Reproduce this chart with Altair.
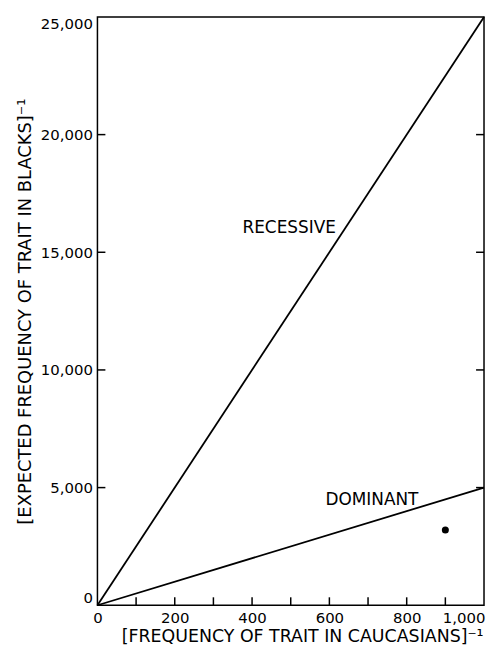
import altair as alt
import pandas as pd

# ---- data ----
line_x = [0, 1000]
recessive_y = [0, 25000]
dominant_y = [0, 5000]

point_x = [900]
point_y = [3200]

label_text = ["RECESSIVE", "DOMINANT"]
label_x = [496, 710]
label_y = [16050, 4480]

x_label_values = [0, 200, 400, 600, 800, 1000]
x_minor_ticks = [100, 200, 300, 400, 500, 600, 700, 800, 900]
y_label_values = [0, 5000, 10000, 15000, 20000, 25000]
y_inner_ticks = [5000, 10000, 15000, 20000]

FONT = "DejaVu Sans"
W, H, TICK = 389, 592, 8

lines_df = pd.DataFrame(
    {
        "series": ["recessive"] * 2 + ["dominant"] * 2,
        "x": line_x + line_x,
        "y": recessive_y + dominant_y,
    }
)
point_df = pd.DataFrame({"x": point_x, "y": point_y})
label_df = pd.DataFrame({"x": label_x, "y": label_y, "label": label_text})
xtick_df = pd.DataFrame({"x": x_minor_ticks})
ytick_df = pd.DataFrame({"y": y_inner_ticks})

xs = alt.Scale(domain=[0, 1000], nice=False, zero=False)
ys = alt.Scale(domain=[0, 25000], nice=False, zero=False)

x_axis = alt.Axis(
    values=x_label_values,
    format=",.0f",
    ticks=False,
    domain=False,
    grid=False,
    labelPadding=5,
    labelAlign={"condition": {"test": "datum.value == 1000", "value": "right"}, "value": "center"},
    labelOffset={"condition": {"test": "datum.value == 1000", "value": 1}, "value": 0},
    title="[FREQUENCY OF TRAIT IN CAUCASIANS]⁻¹",
    titleFontSize=17.5,
    titlePadding=2,
    titleX=206,
)
y_axis = alt.Axis(
    values=y_label_values,
    format=",.0f",
    ticks=False,
    domain=False,
    grid=False,
    labelFlush=True,
    labelPadding=5,
    title="[EXPECTED FREQUENCY OF TRAIT IN BLACKS]⁻¹",
    titlePadding=6,
)


def X():
    return alt.X("x:Q", scale=xs, axis=x_axis)


def Y():
    return alt.Y("y:Q", scale=ys, axis=y_axis)


lines = alt.Chart(lines_df).mark_line(color="black", strokeWidth=1.8).encode(
    x=X(), y=Y(), detail="series:N"
)

points = alt.Chart(point_df).mark_circle(color="black", opacity=1, size=50).encode(
    x=X(), y=Y()
)

labels = alt.Chart(label_df).mark_text(
    font=FONT, fontSize=17, color="black", align="center", baseline="middle"
).encode(x=X(), y=Y(), text="label:N")

xticks = alt.Chart(xtick_df).mark_rule(color="black", strokeWidth=1.5).encode(
    x=X(),
    y=alt.value(H),
    y2=alt.value(H - TICK),
)
left_ticks = alt.Chart(ytick_df).mark_rule(color="black", strokeWidth=1.5).encode(
    y=Y(),
    x=alt.value(0),
    x2=alt.value(TICK),
)
right_ticks = alt.Chart(ytick_df).mark_rule(color="black", strokeWidth=1.5).encode(
    y=Y(),
    x=alt.value(W),
    x2=alt.value(W - TICK),
)

chart = (
    alt.layer(lines, points, labels, xticks, left_ticks, right_ticks)
    .properties(
        width=W,
        height=H,
        padding={"left": 90, "top": 7, "right": 2, "bottom": 40},
        autosize=alt.AutoSizeParams(type="none"),
    )
    .configure_view(stroke="black", strokeWidth=1.5)
    .configure_axis(
        labelFont=FONT,
        labelFontSize=15,
        labelColor="black",
        titleFont=FONT,
        titleFontSize=18,
        titleFontWeight="normal",
        titleColor="black",
    )
)

chart.save("out.html", embed_options={"renderer": "svg", "actions": False})
